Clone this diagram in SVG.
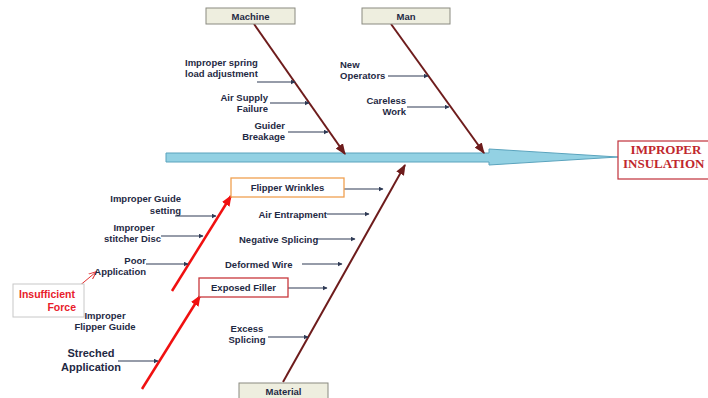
<svg xmlns="http://www.w3.org/2000/svg" width="708" height="398" viewBox="0 0 708 398">
<defs>
<style>
.t{font-family:"Liberation Sans",Arial,sans-serif;font-weight:bold;font-size:9.5px;fill:#1f2a44}
.big{font-size:11px}
.cat{fill:#eeeedf;stroke:#8a8a80;stroke-width:1}
.bone{stroke:#6e1c1c;stroke-width:2;fill:none}
.cl{stroke:#2e3a55;stroke-width:1.1;fill:none}
.red{stroke:#f01010;stroke-width:2.5;fill:none}
</style>
<marker id="ab" viewBox="0 0 10 10" refX="9" refY="5" markerWidth="5" markerHeight="5" orient="auto" markerUnits="userSpaceOnUse"><path d="M0,0L10,5L0,10z" fill="#2e3a55"/></marker>
<marker id="bb" viewBox="0 0 10 10" refX="9" refY="5" markerWidth="11" markerHeight="11" orient="auto" markerUnits="userSpaceOnUse"><path d="M0,1L10,5L0,9z" fill="#6e1c1c"/></marker>
<marker id="rb" viewBox="0 0 10 10" refX="9" refY="5" markerWidth="11" markerHeight="11" orient="auto" markerUnits="userSpaceOnUse"><path d="M0,1L10,5L0,9z" fill="#f01010"/></marker>
<marker id="ro" viewBox="0 0 10 10" refX="9" refY="5" markerWidth="8" markerHeight="8" orient="auto" markerUnits="userSpaceOnUse"><path d="M0,1L10,5L0,9" fill="none" stroke="#e03030" stroke-width="1.2"/></marker>
</defs>
<rect width="708" height="398" fill="#ffffff"/>

<g id="spine">
<path d="M166,153 L489,153 L489,149 L618,157 L489,165 L489,162 L166,162 Z" fill="#93d1e3" stroke="#5aa3bd" stroke-width="1"/>
</g>

<g id="effect">
<rect x="618" y="141" width="96" height="38" fill="#ffffff" stroke="#c0303a" stroke-width="1.2"/>
<text x="666" y="154" text-anchor="middle" font-family="Liberation Serif,'Times New Roman',serif" font-weight="bold" font-size="13" fill="#c0272d">IMPROPER</text>
<text x="623" y="168" font-family="Liberation Serif,'Times New Roman',serif" font-weight="bold" font-size="13" fill="#c0272d">INSULATION</text>
</g>

<g id="connectors">
<line class="bone" x1="254" y1="24" x2="345" y2="154" marker-end="url(#bb)"/>
<line class="bone" x1="391" y1="24" x2="484" y2="153" marker-end="url(#bb)"/>
<line class="bone" x1="283" y1="382" x2="405" y2="165" marker-end="url(#bb)"/>
<line class="red" x1="172" y1="291" x2="231" y2="196" marker-end="url(#rb)"/>
<line class="red" x1="142" y1="389" x2="200" y2="296" marker-end="url(#rb)"/>
<line x1="78" y1="287" x2="96" y2="272" stroke="#e03030" stroke-width="1" marker-end="url(#ro)"/>

<line class="cl" x1="257" y1="82" x2="295" y2="82" marker-end="url(#ab)"/>
<line class="cl" x1="270" y1="103" x2="309" y2="103" marker-end="url(#ab)"/>
<line class="cl" x1="288" y1="132" x2="328" y2="132" marker-end="url(#ab)"/>
<line class="cl" x1="388" y1="76" x2="428" y2="76" marker-end="url(#ab)"/>
<line class="cl" x1="407" y1="107" x2="449" y2="107" marker-end="url(#ab)"/>
<line class="cl" x1="344" y1="189" x2="383" y2="189" marker-end="url(#ab)"/>
<line class="cl" x1="327" y1="214" x2="369" y2="214" marker-end="url(#ab)"/>
<line class="cl" x1="316" y1="239" x2="355" y2="239" marker-end="url(#ab)"/>
<line class="cl" x1="302" y1="264" x2="342" y2="264" marker-end="url(#ab)"/>
<line class="cl" x1="288" y1="288" x2="327" y2="288" marker-end="url(#ab)"/>
<line class="cl" x1="268" y1="337" x2="308" y2="337" marker-end="url(#ab)"/>
<line class="cl" x1="175" y1="216" x2="216" y2="216" marker-end="url(#ab)"/>
<line class="cl" x1="161" y1="236" x2="203" y2="236" marker-end="url(#ab)"/>
<line class="cl" x1="146" y1="264" x2="188" y2="264" marker-end="url(#ab)"/>
<line class="cl" x1="118" y1="361" x2="158" y2="361" marker-end="url(#ab)"/>
</g>

<g id="machine">
<rect class="cat" x="206" y="8" width="89" height="16"/>
<text class="t" x="250.5" y="19.5" text-anchor="middle">Machine</text>
</g>
<g id="man">
<rect class="cat" x="362" y="8" width="88" height="16"/>
<text class="t" x="406" y="19.5" text-anchor="middle">Man</text>
</g>
<g id="material">
<rect class="cat" x="239" y="383" width="89" height="18"/>
<text class="t" x="283.5" y="395" text-anchor="middle">Material</text>
</g>

<g id="c-spring"><text class="t" x="185" y="66">Improper spring</text><text class="t" x="185" y="77">load adjustment</text></g>
<g id="c-air"><text class="t" x="268" y="101" text-anchor="end">Air Supply</text><text class="t" x="268" y="112" text-anchor="end">Failure</text></g>
<g id="c-guider"><text class="t" x="285" y="129" text-anchor="end">Guider</text><text class="t" x="285" y="140" text-anchor="end">Breakage</text></g>
<g id="c-new"><text class="t" x="340" y="68">New</text><text class="t" x="340" y="79">Operators</text></g>
<g id="c-careless"><text class="t" x="406" y="104" text-anchor="end">Careless</text><text class="t" x="406" y="115" text-anchor="end">Work</text></g>

<g id="c-flipper">
<rect x="231" y="178" width="113" height="19" fill="#ffffff" stroke="#f0a050" stroke-width="1.3"/>
<text class="t" x="287.5" y="191" text-anchor="middle">Flipper Wrinkles</text>
</g>
<g id="c-airent"><text class="t" x="327" y="217.5" text-anchor="end">Air Entrapment</text></g>
<g id="c-negsplice"><text class="t" x="239" y="242.5">Negative Splicing</text></g>
<g id="c-deformed"><text class="t" x="225" y="267.5">Deformed Wire</text></g>
<g id="c-exposed">
<rect x="199" y="278" width="89" height="19" fill="#ffffff" stroke="#c8383c" stroke-width="1.3"/>
<text class="t" x="243.5" y="291" text-anchor="middle">Exposed Filler</text>
</g>
<g id="c-excess"><text class="t" x="247" y="332" text-anchor="middle">Excess</text><text class="t" x="247" y="343" text-anchor="middle">Splicing</text></g>

<g id="c-guideset"><text class="t" x="181" y="202" text-anchor="end">Improper Guide</text><text class="t" x="181" y="214" text-anchor="end">setting</text></g>
<g id="c-stitcher"><text class="t" x="134" y="231" text-anchor="middle">Improper</text><text class="t" x="161" y="242" text-anchor="end">stitcher Disc</text></g>
<g id="c-poor"><text class="t" x="146" y="264" text-anchor="end">Poor</text><text class="t" x="146" y="275" text-anchor="end">Application</text></g>
<g id="c-insufficient">
<rect x="13" y="284" width="71" height="33" fill="#ffffff" stroke="#c8c8c8" stroke-width="1"/>
<text class="t" x="19" y="298" font-size="10.5" style="fill:#e8202a;font-size:10.5px">Insufficient</text>
<text class="t" x="76" y="311" text-anchor="end" style="fill:#e8202a;font-size:10.5px">Force</text>
</g>
<g id="c-flipguide"><text class="t" x="105" y="319" text-anchor="middle">Improper</text><text class="t" x="105" y="330" text-anchor="middle">Flipper Guide</text></g>
<g id="c-streched"><text class="t big" x="91" y="357" text-anchor="middle">Streched</text><text class="t big" x="91" y="371" text-anchor="middle">Application</text></g>
</svg>
